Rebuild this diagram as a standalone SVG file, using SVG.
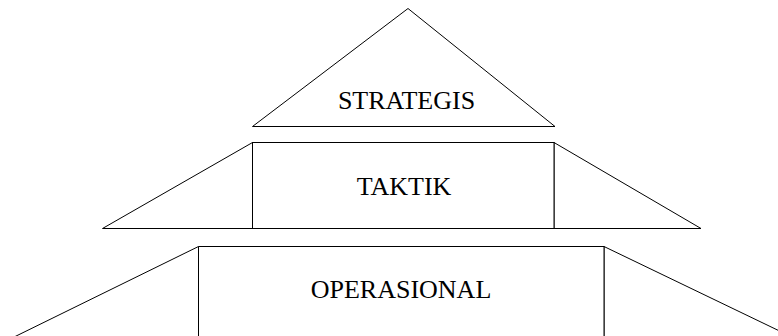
<svg xmlns="http://www.w3.org/2000/svg" width="778" height="336" viewBox="0 0 778 336">
  <style>
    .shape { fill: #ffffff; stroke: #000000; stroke-width: 1; }
    .label { font-family: "Liberation Serif", "Times New Roman", serif; font-size: 26px; fill: #000000; text-anchor: middle; }
  </style>
  <rect width="778" height="336" fill="#ffffff"/>

  <!-- top level: strategic -->
  <g id="strategis">
    <polygon class="shape" points="408,8.5 252.5,126.5 555,126.5"/>
    <text class="label" x="406.5" y="109">STRATEGIS</text>
  </g>

  <!-- middle level: tactical -->
  <g id="taktik">
    <polygon class="shape" points="252.5,142.5 102.5,228.5 252.5,228.5"/>
    <polygon class="shape" points="554,142.5 701,228.5 554,228.5"/>
    <rect class="shape" x="252.5" y="142.5" width="301.5" height="86"/>
    <text class="label" x="404" y="195">TAKTIK</text>
  </g>

  <!-- bottom level: operational (runs past the lower edge) -->
  <g id="operasional">
    <polygon class="shape" points="198.5,246.5 8,340 198.5,340"/>
    <polygon class="shape" points="604,246.5 792,337 604,340"/>
    <polyline class="shape" points="198.5,340 198.5,246.5 604,246.5 604,340"/>
    <text class="label" x="401" y="298">OPERASIONAL</text>
  </g>
</svg>
